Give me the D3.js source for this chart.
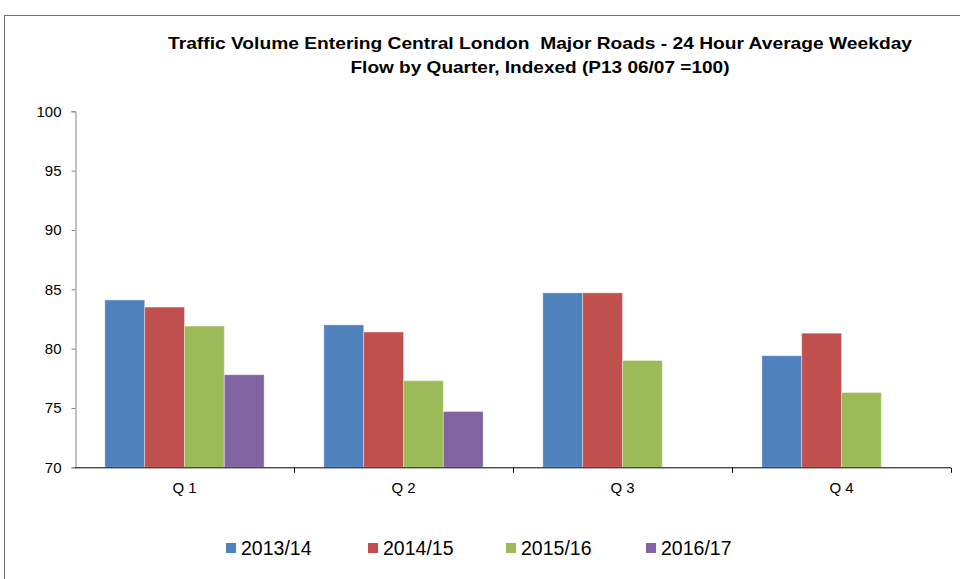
<!DOCTYPE html>
<html>
<head>
<meta charset="utf-8">
<script src="https://cdn.jsdelivr.net/npm/d3@7"></script>
<style>
  body { margin: 0; background: #fff; }
  svg { display: block; font-family: "Liberation Sans", Arial, sans-serif; }
</style>
</head>
<body>
<svg id="chart" width="960" height="579"></svg>
<script>
// data
const quarters = ["Q 1", "Q 2", "Q 3", "Q 4"]
const seriesNames = ["2013/14", "2014/15", "2015/16", "2016/17"]
const v2013 = [84.1, 82.0, 84.7, 79.4]
const v2014 = [83.5, 81.4, 84.7, 81.3]
const v2015 = [81.9, 77.3, 79.0, 76.3]
const v2016 = [77.8, 74.7, null, null]
const yTicks = [70, 75, 80, 85, 90, 95, 100]
const colors = ["#4F81BD", "#C0504D", "#9BBB59", "#8064A2"]

const seriesValues = [v2013, v2014, v2015, v2016]

const svg = d3.select('#chart')

// outer chart frame
svg.append('rect')
    .attr('x', 4.5).attr('y', 15.5)
    .attr('width', 970).attr('height', 600)
    .attr('fill', 'none')
    .attr('stroke', '#6e6e6e')
    .attr('stroke-width', 1)

// title (the original is a bit wider than the font, so stretch it)
const title = svg.append('text')
    .attr('text-anchor', 'middle')
    .attr('font-weight', 'bold')
    .attr('font-size', 16.5)
    .attr('fill', '#000')
title.append('tspan').attr('x', 540).attr('y', 49)
    .attr('textLength', 744).attr('lengthAdjust', 'spacingAndGlyphs')
    .text('Traffic Volume Entering Central London\u00a0 Major Roads - 24 Hour Average Weekday')
title.append('tspan').attr('x', 540).attr('y', 73)
    .attr('textLength', 379).attr('lengthAdjust', 'spacingAndGlyphs')
    .text('Flow by Quarter, Indexed (P13 06/07 =100)')

const x0 = d3.scaleBand().domain(quarters).range([75, 951])
const x1 = d3.scaleBand().domain(seriesNames).range([0, x0.bandwidth()]).paddingOuter(0.75).paddingInner(0)
const y = d3.scaleLinear().domain([70, 100]).range([467.3, 111.3])

// bars
const groups = svg.append('g').selectAll('g')
    .data(quarters)
    .join('g')
    .attr('transform', d => `translate(${x0(d)},0)`)

groups.selectAll('rect')
    .data((q, qi) => seriesNames.map((s, si) => ({ s, si, v: seriesValues[si][qi] })).filter(d => d.v != null))
    .join('rect')
    .attr('x', d => x1(d.s))
    .attr('y', d => y(d.v))
    .attr('width', x1.bandwidth())
    .attr('height', d => y(70) - y(d.v))
    .attr('fill', d => colors[d.si])
    .attr('stroke', 'rgba(255,255,255,0.35)')
    .attr('stroke-width', 1)

// y axis
const yAxis = svg.append('g')
    .attr('transform', 'translate(75.5,0)')
    .call(d3.axisLeft(y).tickValues(yTicks).tickSize(4).tickPadding(10))
yAxis.select('.domain').attr('stroke', '#868686')
yAxis.selectAll('.tick line').attr('stroke', '#868686')
yAxis.selectAll('.tick text')
    .attr('font-size', 15)
    .attr('font-family', '"Liberation Sans", Arial, sans-serif')
    .attr('fill', '#000')

// x axis with ticks at band edges
const xAxis = svg.append('g').attr('transform', `translate(0,${y(70) + 0.5})`)
xAxis.append('line')
    .attr('x1', 75).attr('x2', 951)
    .attr('stroke', '#000')
xAxis.selectAll('.edge')
    .data(quarters.slice(1).map(q => x0(q)).concat([x0.range()[1]]))
    .join('line')
    .attr('class', 'edge')
    .attr('x1', d => Math.round(d) + 0.5).attr('x2', d => Math.round(d) + 0.5)
    .attr('y1', 0).attr('y2', 5)
    .attr('stroke', '#000')
xAxis.selectAll('.lbl')
    .data(quarters)
    .join('text')
    .attr('class', 'lbl')
    .attr('x', d => x0(d) + x0.bandwidth() / 2)
    .attr('y', 25)
    .attr('text-anchor', 'middle')
    .attr('font-size', 15)
    .attr('fill', '#000')
    .text(d => d)

// legend
const legendX = [226, 368, 506, 646]
const legend = svg.append('g').selectAll('g')
    .data(seriesNames)
    .join('g')
    .attr('transform', (d, i) => `translate(${legendX[i]},543)`)
legend.append('rect')
    .attr('width', 10).attr('height', 10)
    .attr('fill', (d, i) => colors[i])
legend.append('text')
    .attr('x', 15).attr('y', 12)
    .attr('font-size', 19.5)
    .attr('fill', '#000')
    .text(d => d)
</script>
</body>
</html>
